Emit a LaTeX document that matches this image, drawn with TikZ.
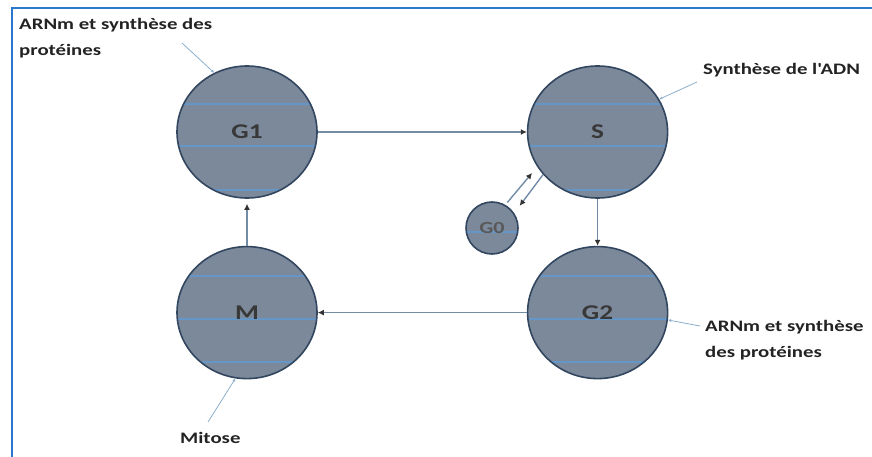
\documentclass[tikz,border=0pt]{standalone}
\usepackage{fontspec}
\setmainfont{Carlito}
\newfontfamily\wideface{Carlito}[FakeStretch=1.3]
\usetikzlibrary{arrows.meta,positioning,shapes.geometric}
\definecolor{framec}{RGB}{40,120,205}
\definecolor{phasefill}{RGB}{124,137,155}
\definecolor{phaseline}{RGB}{50,70,95}
\definecolor{stripec}{RGB}{100,150,200}
\definecolor{linkc}{RGB}{115,140,165}
\definecolor{tagc}{RGB}{140,175,205}
\definecolor{textc}{RGB}{35,35,35}

\begin{document}
\begin{tikzpicture}[x=1pt,y=1pt,
    node distance=47pt and 209pt,
    phase/.style={ellipse,draw=phaseline,line width=1.6pt,fill=phasefill,
      minimum width=140pt,minimum height=132pt,inner sep=0pt,
      font=\wideface\fontsize{21}{21}\selectfont\bfseries,text=black!78,
      path picture={\foreach \i in {1,...,7}
        \draw[stripec,line width=2.6pt] (path picture bounding box.west |- ln\i) -- (path picture bounding box.east |- ln\i);}},
    small/.style={phase,minimum width=52pt,minimum height=52pt,font=\wideface\fontsize{17}{17}\selectfont\bfseries,text=black!65},
    tag/.style={font=\wideface\fontsize{16}{26}\selectfont\bfseries,text=textc,align=left,inner sep=0pt},
    arrow/.style={linkc,line width=1.4pt,-{Latex[length=6pt,width=6pt,color=black!80]}},
    pointer/.style={tagc,line width=0.8pt,-{Latex[length=3pt,width=3pt]}}
]
\clip (0,0) rectangle (872,-457);
\foreach \y [count=\i] in {104,146,190,232,276,319,362}
    \coordinate (ln\i) at (0,-\y);
\draw[framec,line width=1.5pt] (12,-8) rectangle (900,-480);

\node[phase] (G1) at (247,-132) {G1};
\node[phase,right=of G1] (S) {S};
\node[phase,below=of S] (G2) {G2};
\node[phase,below=of G1] (M) {M};
\node[small] (G0) at (492,-228) {G0};

\draw[arrow] (G1) -- (S);
\draw[arrow] (S) -- (G2);
\draw[arrow] (G2) -- (M);
\draw[arrow,shorten >=5pt] (M) -- (G1);
\draw[arrow,shorten <=3pt,shorten >=8pt] (G0.60) -- (S.210);
\draw[arrow,shorten >=9pt] (S.218) -- (G0.34);

\node[tag,anchor=north west] (tG1) at (19,-18) {ARNm et synthèse des\\protéines};
\node[tag,anchor=north west] (tS) at (703,-63) {Synthèse de l'ADN};
\node[tag,anchor=north west] (tG2) at (705,-320) {ARNm et synthèse\\des protéines};
\node[tag,anchor=north west] (tM) at (180,-432) {Mitose};

\coordinate (pG1) at (182,-43);
\coordinate (pS) at (697,-82);
\coordinate (pG2) at (700,-326);
\coordinate (pM) at (208,-422);
\draw[pointer] (pG1) -- (G1.119);
\draw[pointer] (pS) -- (S.28);
\draw[pointer] (pG2) -- (G2.354);
\draw[pointer] (pM) -- (M.260);
\end{tikzpicture}
\end{document}
